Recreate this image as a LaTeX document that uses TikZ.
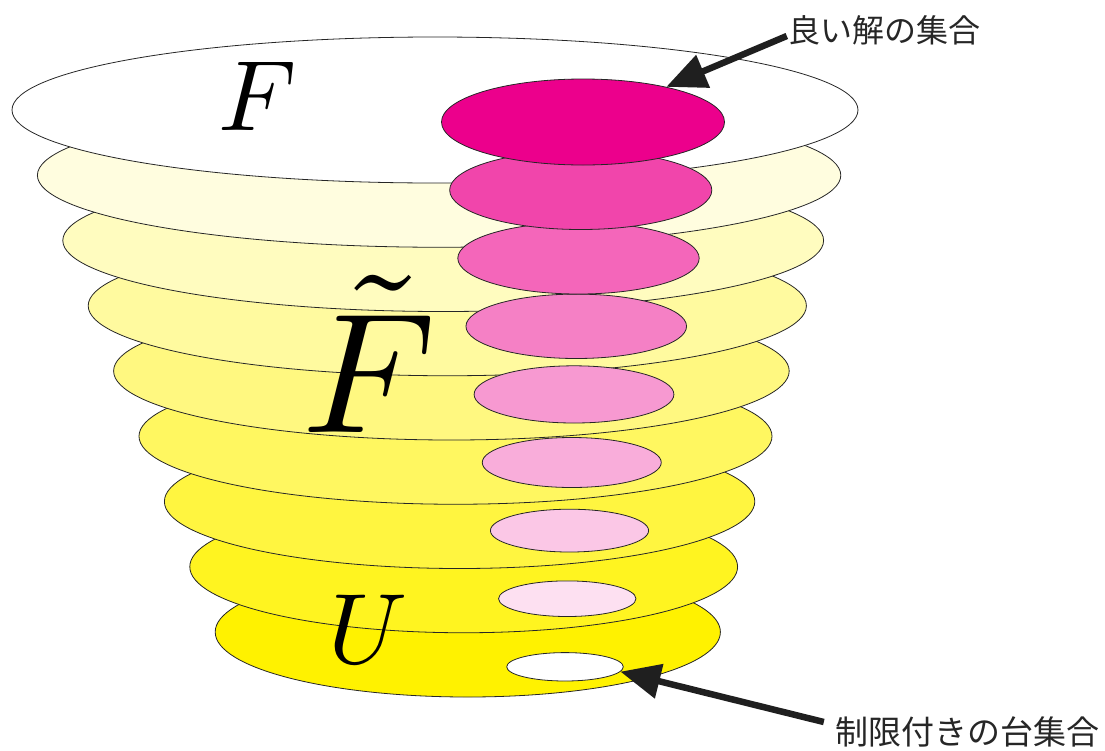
\documentclass[tikz,border=0pt]{standalone}
\usepackage{graphicx}
\usepackage{fontspec}
\newfontfamily\jpfont{Noto Sans CJK JP}
\usepackage{tikz}
\usetikzlibrary{arrows.meta, shapes.geometric}

\definecolor{yel}{RGB}{255,242,0}
\definecolor{mag}{RGB}{236,0,140}

\tikzset{
  layer/.style={ellipse, draw=black!85, line width=0.8pt, inner sep=0pt},
  ptr/.style={draw=black!88, line width=6.5pt, -{Triangle[length=40pt,width=34pt]}},
  lbl/.style={font=\jpfont\fontsize{32}{32}\selectfont, text=black!85, inner sep=1pt},
}

\begin{document}
\begin{tikzpicture}[x=1pt, y=-1pt]
\useasboundingbox (0,0) rectangle (1105,750);

% Layers (bottom first)
\foreach \i in {8,7,...,0}{
  \pgfmathsetmacro{\cx}{435+4.1*\i}
  \pgfmathsetmacro{\cy}{110+65.25*\i}
  \pgfmathsetmacro{\w}{2*(423-21.3*\i)}
  \pgfmathsetmacro{\h}{2*(73-\i)}
  \pgfmathsetmacro{\k}{12.5*\i}
  \node[layer, minimum width=\w pt, minimum height=\h pt, fill=yel!\k!white] (l\i) at (\cx,\cy) {};
}

% Good solutions
\foreach \i/\k in {8/0,7/12,6/22,5/32,4/40,3/50,2/60,1/73,0/100}{
  \pgfmathsetmacro{\cx}{583-2.25*\i}
  \pgfmathsetmacro{\cy}{122+68.1*\i}
  \pgfmathsetmacro{\w}{2*(141.5-10.4*\i)}
  \pgfmathsetmacro{\h}{2*(43-3.6*\i)}
  \node[layer, minimum width=\w pt, minimum height=\h pt, fill=mag!\k!white] (p\i) at (\cx,\cy) {};
}

% Set names
\node[inner sep=0pt] (setF) at (258,96) {\scalebox{10}{$F$}};
\node[inner sep=0pt] (setFt) at (369,354) {\scalebox{17.1}{$\tilde{F}$}};
\node[inner sep=0pt] (setU) at (368,629) {\scalebox{10}{$U$}};

% Labels and pointers
\node[lbl] (good) at (884,30) {良い解の集合};
\node[lbl, font=\jpfont\fontsize{33}{33}\selectfont] (supp) at (967,732) {制限付きの台集合};
\draw[ptr] ([yshift=-6pt]good.west) -- (p0);
\draw[ptr] ([xshift=-10pt,yshift=10pt]supp.west) -- (p8.-5);

\end{tikzpicture}
\end{document}
